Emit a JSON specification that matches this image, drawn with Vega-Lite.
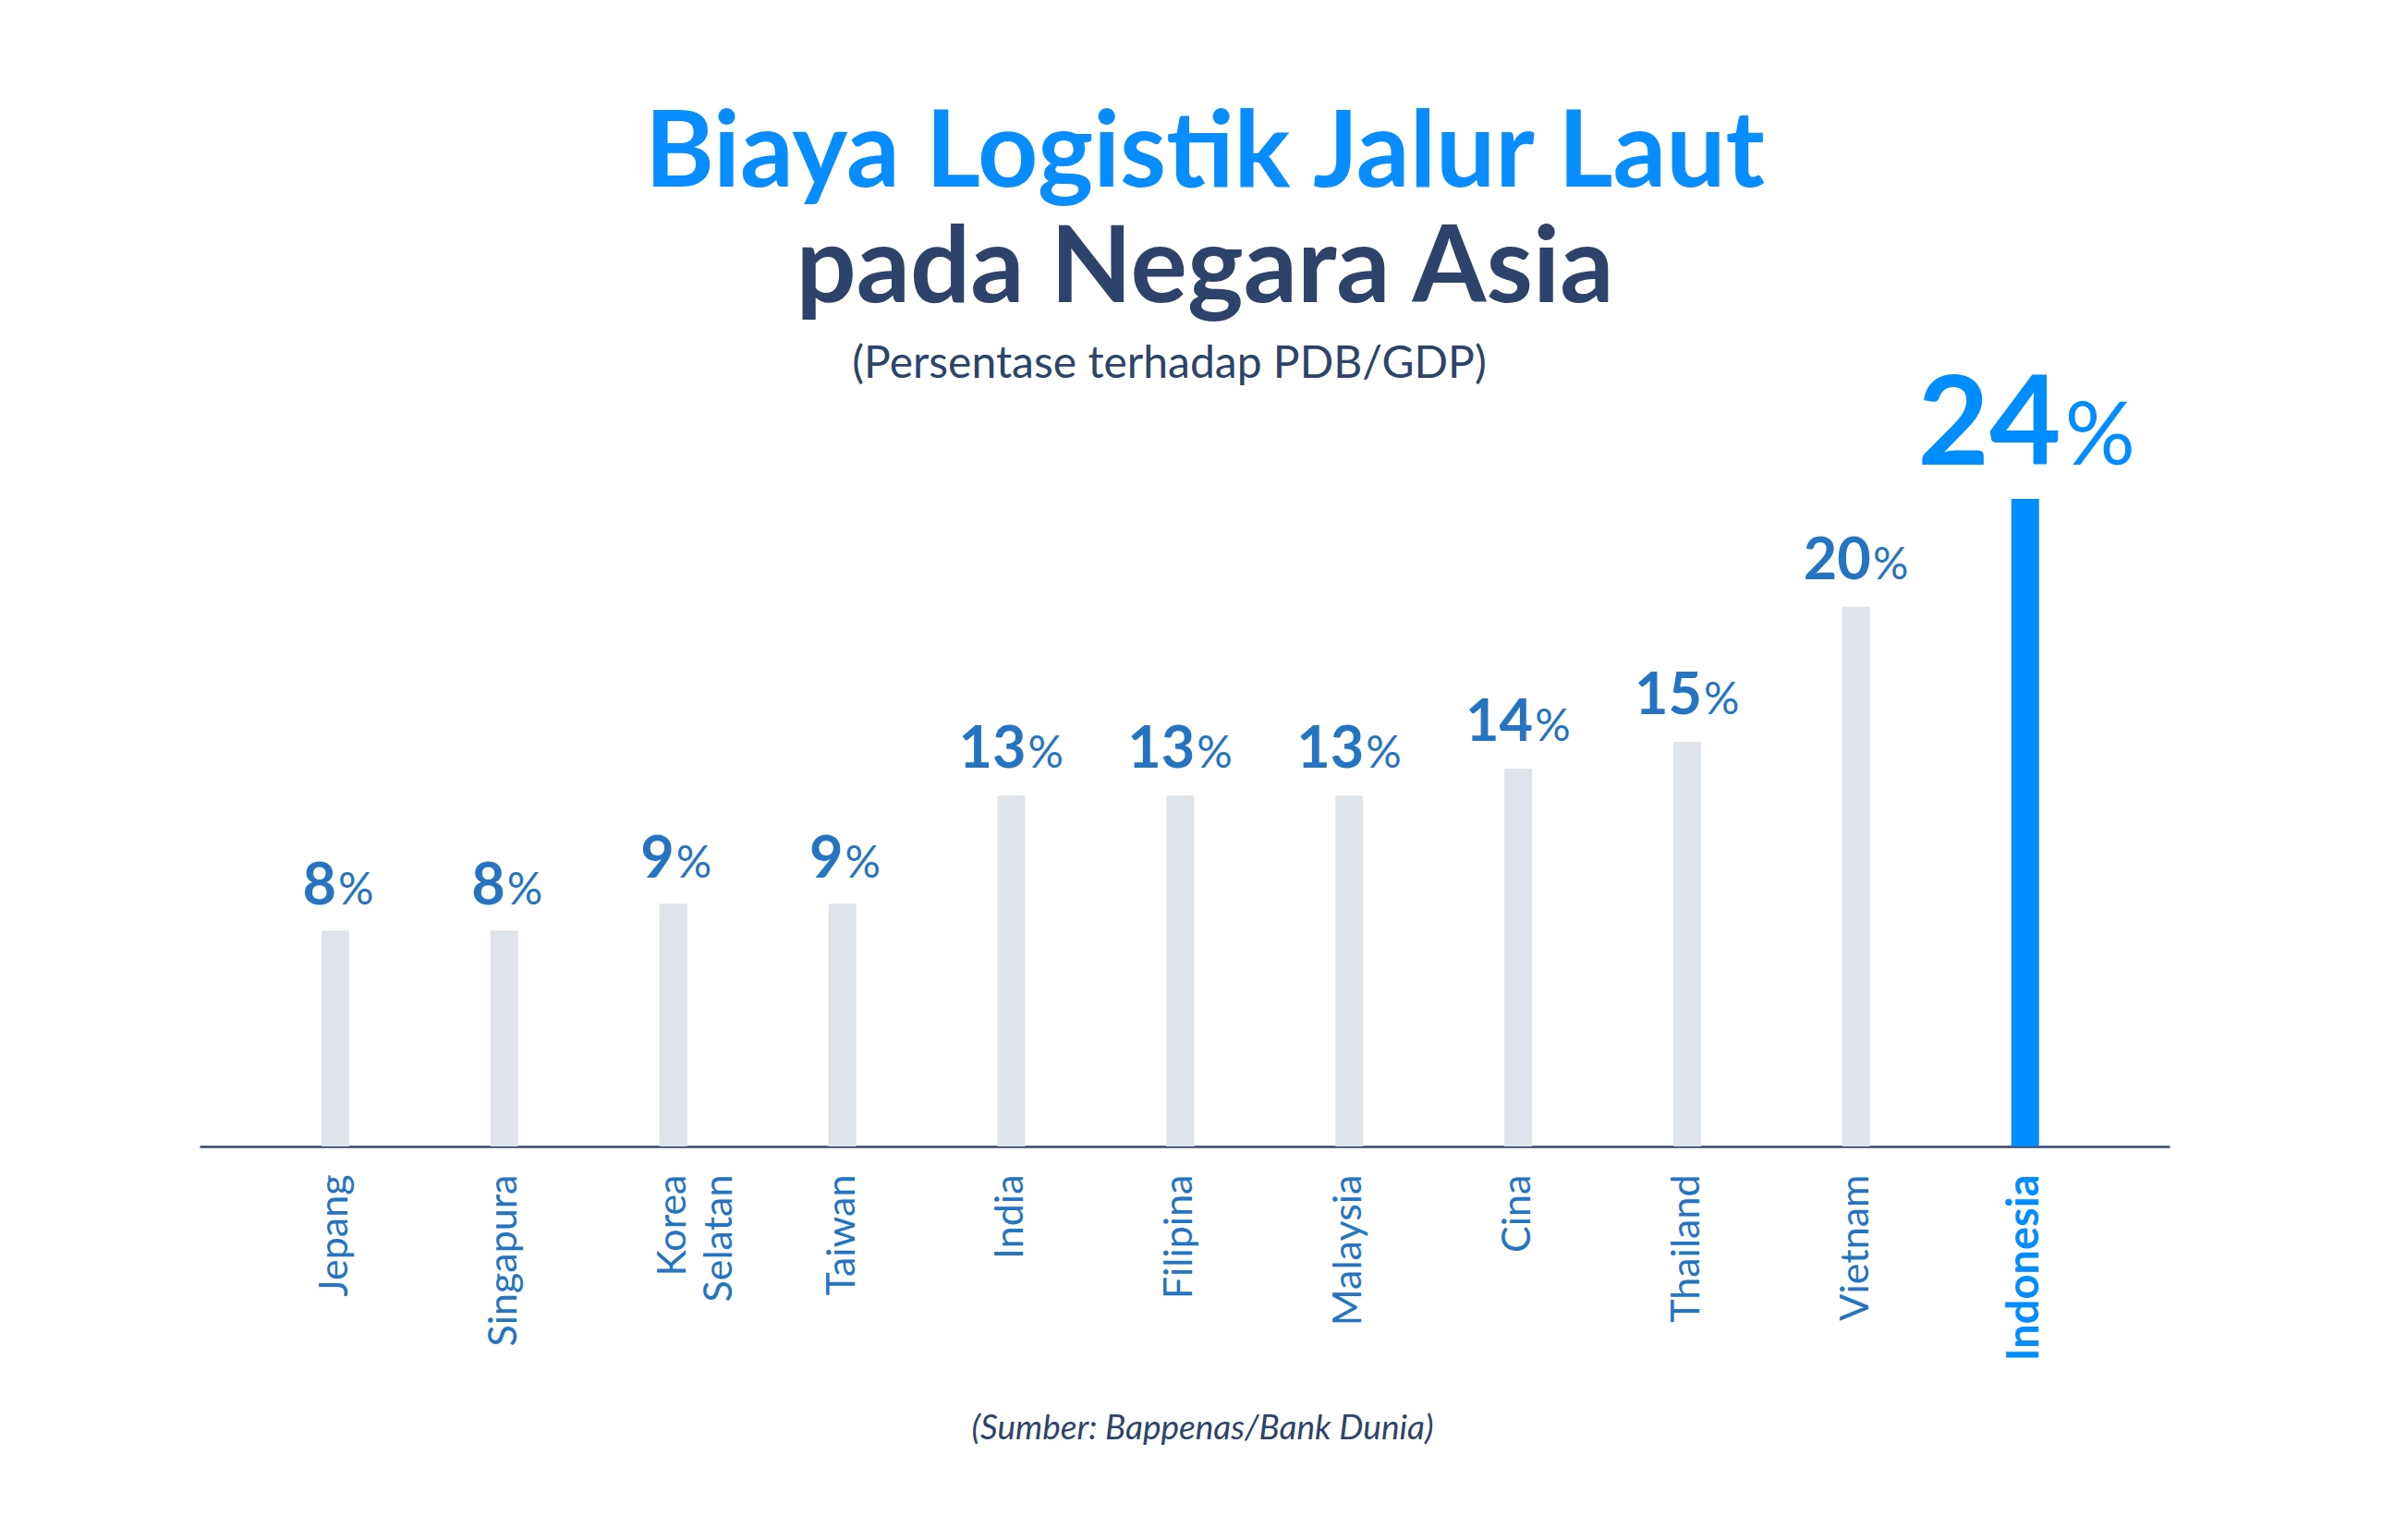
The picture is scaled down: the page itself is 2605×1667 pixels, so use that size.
{
  "$schema": "https://vega.github.io/schema/vega-lite/v6.json",
  "width": 2132,
  "height": 701,
  "autosize": {"type": "none"},
  "padding": {"left": 216, "top": 540, "right": 257, "bottom": 426},
  "background": "#ffffff",
  "config": {"view": {"stroke": null}, "font": "Lato"},
  "title": {
    "text": "Biaya Logistik Jalur Laut",
    "subtitle": "pada Negara Asia",
    "anchor": "middle",
    "frame": "group",
    "dx": 22,
    "offset": 19,
    "font": "Lato",
    "fontSize": 114,
    "fontWeight": "bold",
    "color": "#078DFD",
    "subtitleFont": "Lato",
    "subtitleFontSize": 115,
    "subtitleFontWeight": "bold",
    "subtitleColor": "#2E4369",
    "subtitlePadding": 10
  },
  "data": {
    "values": [
      {"country": "Jepang", "value": 8},
      {"country": "Singapura", "value": 8},
      {"country": "Korea Selatan", "value": 9},
      {"country": "Taiwan", "value": 9},
      {"country": "India", "value": 13},
      {"country": "Filipina", "value": 13},
      {"country": "Malaysia", "value": 13},
      {"country": "Cina", "value": 14},
      {"country": "Thailand", "value": 15},
      {"country": "Vietnam", "value": 20},
      {"country": "Indonesia", "value": 24}
    ]
  },
  "encoding": {
    "x": {
      "field": "country",
      "type": "nominal",
      "sort": null,
      "scale": {"paddingInner": 0.836, "paddingOuter": 0.7468, "align": 0.483},
      "axis": {
        "title": "(Sumber: Bappenas/Bank Dunia)",
        "titleFont": "Lato",
        "titleFontSize": 37,
        "titleFontStyle": "italic",
        "titleFontWeight": "normal",
        "titleColor": "#2E4369",
        "titleAlign": "center",
        "titleBaseline": "alphabetic",
        "titleX": 1085,
        "titleY": 316,
        "domain": true,
        "domainColor": "#34486F",
        "domainWidth": 2.5,
        "ticks": false,
        "grid": false,
        "labelAngle": -90,
        "labelAlign": "right",
        "labelBaseline": "middle",
        "labelPadding": 30,
        "labelFont": "Lato",
        "labelFontSize": {"condition": {"test": "datum.value === 'Indonesia'", "value": 47}, "value": 43},
        "labelLineHeight": 50,
        "labelExpr": "datum.value === 'Korea Selatan' ? ['Korea', 'Selatan'] : datum.value",
        "labelColor": {"condition": {"test": "datum.value === 'Indonesia'", "value": "#008DFF"}, "value": "#2474C1"},
        "labelFontWeight": {"condition": {"test": "datum.value === 'Indonesia'", "value": "bold"}, "value": "normal"},
        "labelOverlap": false,
        "labelLimit": 400
      }
    },
    "y": {
      "field": "value",
      "type": "quantitative",
      "scale": {"domain": [0, 24], "nice": false},
      "axis": {
        "title": "(Persentase terhadap PDB/GDP)",
        "titleAngle": 0,
        "titleFont": "Lato",
        "titleFontSize": 48,
        "titleFontWeight": "normal",
        "titleColor": "#2E4369",
        "titleAlign": "center",
        "titleBaseline": "alphabetic",
        "titleX": 1049,
        "titleY": -132,
        "domain": false,
        "ticks": false,
        "labels": false,
        "grid": false
      }
    }
  },
  "layer": [
    {
      "mark": {"type": "bar"},
      "encoding": {
        "color": {"condition": {"test": "datum.country === 'Indonesia'", "value": "#008DFF"}, "value": "#DFE3EA"}
      }
    },
    {
      "transform": [{"filter": "datum.country !== 'Indonesia' && datum.value < 10"}],
      "mark": {"type": "text", "align": "right", "baseline": "alphabetic", "dx": 1, "dy": -28, "font": "Lato", "fontSize": 63, "fontWeight": "bold", "color": "#2474C1"},
      "encoding": {"text": {"field": "value", "type": "quantitative"}}
    },
    {
      "transform": [{"filter": "datum.country !== 'Indonesia' && datum.value < 10"}],
      "mark": {"type": "text", "align": "left", "baseline": "alphabetic", "dx": 3, "dy": -28, "font": "Lato", "fontSize": 48, "fontWeight": "normal", "color": "#2474C1"},
      "encoding": {"text": {"value": "%"}}
    },
    {
      "transform": [{"filter": "datum.country !== 'Indonesia' && datum.value >= 10"}],
      "mark": {"type": "text", "align": "right", "baseline": "alphabetic", "dx": 16, "dy": -30, "font": "Lato", "fontSize": 63, "fontWeight": "bold", "color": "#2474C1"},
      "encoding": {"text": {"field": "value", "type": "quantitative"}}
    },
    {
      "transform": [{"filter": "datum.country !== 'Indonesia' && datum.value >= 10"}],
      "mark": {"type": "text", "align": "left", "baseline": "alphabetic", "dx": 18, "dy": -30, "font": "Lato", "fontSize": 48, "fontWeight": "normal", "color": "#2474C1"},
      "encoding": {"text": {"value": "%"}}
    },
    {
      "transform": [{"filter": "datum.country === 'Indonesia'"}],
      "mark": {"type": "text", "align": "right", "baseline": "alphabetic", "dx": 39, "dy": -37, "font": "Lato", "fontSize": 134, "fontWeight": "bold", "color": "#008DFF"},
      "encoding": {"text": {"field": "value", "type": "quantitative"}}
    },
    {
      "transform": [{"filter": "datum.country === 'Indonesia'"}],
      "mark": {"type": "text", "align": "left", "baseline": "alphabetic", "dx": 43, "dy": -37, "font": "Lato", "fontSize": 95, "fontWeight": "normal", "color": "#008DFF"},
      "encoding": {"text": {"value": "%"}}
    }
  ]
}
